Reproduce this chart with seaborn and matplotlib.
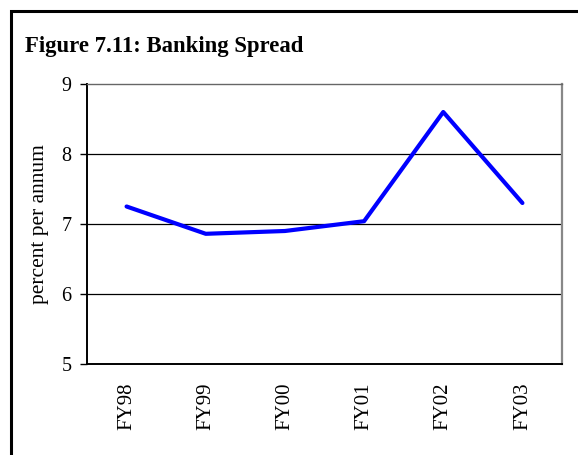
import matplotlib
matplotlib.use("Agg")
import matplotlib.pyplot as plt
import seaborn as sns
import pandas as pd
from matplotlib.patches import Rectangle
from matplotlib.ticker import FixedLocator

years = ["FY98", "FY99", "FY00", "FY01", "FY02", "FY03"]
spread = [7.25, 6.86, 6.90, 7.04, 8.60, 7.30]
y_ticks = [5, 6, 7, 8, 9]

sns.set_style("white")
plt.rcParams["font.family"] = ["Liberation Serif", "DejaVu Serif"]
plt.rcParams["text.color"] = "black"
plt.rcParams["axes.labelcolor"] = "black"
plt.rcParams["xtick.color"] = "black"
plt.rcParams["ytick.color"] = "black"

fig = plt.figure(figsize=(5.78, 4.55), dpi=100)
L, R, T, B = 87, 562, 84, 364
ax = fig.add_axes([L/578, 1-B/455, (R-L)/578, (B-T)/455])

df = pd.DataFrame({"year": years, "spread": spread})
sns.lineplot(data=df, x="year", y="spread", ax=ax, color="#0000FF", linewidth=3.0, sort=False)

ax.set_ylim(5, 9)
ax.set_xlim(-0.5, len(years) - 0.5)
ax.set_yticks(y_ticks)
ax.set_yticklabels([str(v) for v in y_ticks], fontsize=14.5, color="black")
ax.set_xticks(range(len(years)))
ax.set_xticklabels(years, rotation=90, fontsize=15, color="black")
ax.xaxis.set_minor_locator(FixedLocator([i - 0.5 for i in range(len(years) + 1)]))
ax.tick_params(axis="x", which="major", length=0, pad=13)
ax.tick_params(axis="x", which="minor", length=5, width=1, color="black", direction="out")
ax.tick_params(axis="y", which="major", length=5, width=1, color="black", direction="out", pad=6, left=True)
ax.set_xlabel("")
ax.set_ylabel("percent per annum", fontsize=15.5, labelpad=9, color="black")

for v in [6, 7, 8]:
    ax.axhline(v, color="black", linewidth=0.9, zorder=0)

ax.spines["left"].set_color("black")
ax.spines["left"].set_linewidth(1.4)
ax.spines["bottom"].set_color("black")
ax.spines["bottom"].set_linewidth(1.4)
ax.spines["top"].set_color("#666666")
ax.spines["top"].set_linewidth(1.0)
ax.spines["right"].set_color("#888888")
ax.spines["right"].set_linewidth(1.6)

fig.text(25/578, 1-52/455, "Figure 7.11: Banking Spread", fontsize=16.4, fontweight="bold",
         ha="left", va="baseline", color="black")

fig.patches.append(Rectangle((11/578, -0.1), 1.2, 1 - 11/455 + 0.1,
                             transform=fig.transFigure, fill=False,
                             edgecolor="black", linewidth=2.2))

fig.savefig("out.png", dpi=100)
